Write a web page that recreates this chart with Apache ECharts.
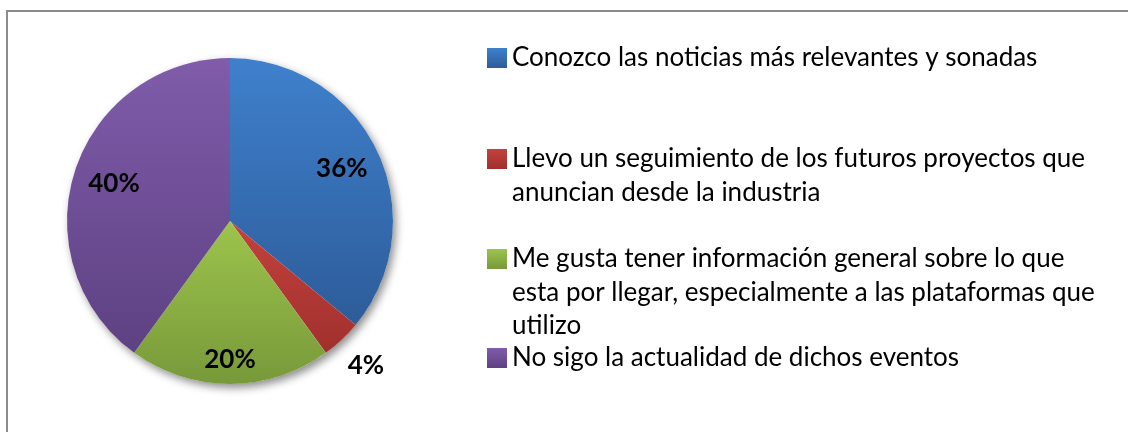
<!DOCTYPE html>
<html>
<head>
<meta charset="utf-8">
<script src="https://cdn.jsdelivr.net/npm/echarts@6/dist/echarts.min.js"></script>
<style>
  html, body { margin: 0; padding: 0; background: #fff; overflow: hidden; }
  #frame { position: absolute; left: 6px; top: 10px; width: 1140px; height: 440px; border: 2px solid #8c8c8c; box-sizing: border-box; }
  #chart { position: absolute; left: 0; top: 0; width: 1128px; height: 432px; }
</style>
</head>
<body>
<div id="frame"></div>
<div id="chart"></div>
<script>
// ---- data ----
const legendLines = [
  ['Conozco las noticias más relevantes y sonadas'],
  ['Llevo un seguimiento de los futuros proyectos que', 'anuncian desde la industria'],
  ['Me gusta tener información general sobre lo que', 'esta por llegar, especialmente a las plataformas que', 'utilizo'],
  ['No sigo la actualidad de dichos eventos']
];
const categories = legendLines.map(l => l.join(' '));
const values = [36, 4, 20, 40];
const colorsTop = ['#3f80cd', '#c4423d', '#9dc44c', '#805caa'];
const colorsBottom = ['#2d5c99', '#a0302d', '#78993a', '#5d4182'];

// ---- layout ----
const CX = 230, CY = 221, R = 163;
const labelRadiusRatio = [0.74, 1.2, 0.83, 0.73];
const LH = 33.5;
const legendCenters = [58, 159, 259, 358];
const LEGEND_LEFT = 487;
const MARK = 20;

function grad(i) {
  return new echarts.graphic.LinearGradient(0, 0, 0, 1, [
    { offset: 0, color: colorsTop[i] },
    { offset: 1, color: colorsBottom[i] }
  ]);
}

const mainData = categories.map((n, i) => ({ name: n, value: values[i], itemStyle: { color: grad(i) } }));
const labelStyle = { color: '#000', fontFamily: 'Lato', fontWeight: 'bold', fontSize: 26 };

// one transparent ring per slice, used only to place that slice's percentage label
const labelSeries = categories.map((_, k) => {
  const mid = R * labelRadiusRatio[k];
  return {
    type: 'pie', z: 3, silent: true, legendHoverLink: false,
    center: [CX, CY], radius: [mid - 15, mid + 15],
    startAngle: 90, clockwise: true,
    avoidLabelOverlap: false,
    itemStyle: { color: 'rgba(0,0,0,0)', borderWidth: 0 },
    label: Object.assign({ position: 'inside', formatter: '{d}%' }, labelStyle),
    labelLine: { show: false },
    emphasis: { disabled: true },
    data: categories.map((n, i) => ({ name: n, value: values[i], label: { show: i === k } }))
  };
});

const legends = categories.map((n, i) => {
  const L = legendLines[i].length;
  return {
    data: [n],
    orient: 'vertical',
    left: LEGEND_LEFT,
    top: legendCenters[i] - (L - 1) * LH - LH / 2,
    padding: 0,
    icon: 'rect',
    itemWidth: MARK,
    itemHeight: MARK,
    itemStyle: { borderWidth: 0 },
    selectedMode: false,
    formatter: () => '\n'.repeat(L - 1) + legendLines[i].join('\n'),
    textStyle: { color: '#000', fontFamily: 'Lato', fontSize: 26, lineHeight: LH }
  };
});

const chart = echarts.init(document.getElementById('chart'), null, { renderer: 'canvas' });
chart.setOption({
  animation: false,
  legend: legends,
  series: [
    {
      type: 'pie', name: 'shadow', silent: true, z: 1,
      center: [CX, CY], radius: R,
      label: { show: false }, labelLine: { show: false },
      data: [{ name: '__bg', value: 1 }],
      itemStyle: { color: '#fff', borderWidth: 0, shadowBlur: 8, shadowOffsetX: 3, shadowOffsetY: 4, shadowColor: 'rgba(0,0,0,0.45)' }
    },
    {
      type: 'pie', z: 2,
      center: [CX, CY], radius: R,
      startAngle: 90, clockwise: true,
      avoidLabelOverlap: false,
      itemStyle: { borderWidth: 0 },
      label: { show: false }, labelLine: { show: false },
      emphasis: { disabled: true },
      data: mainData
    }
  ].concat(labelSeries)
});
</script>
</body>
</html>
